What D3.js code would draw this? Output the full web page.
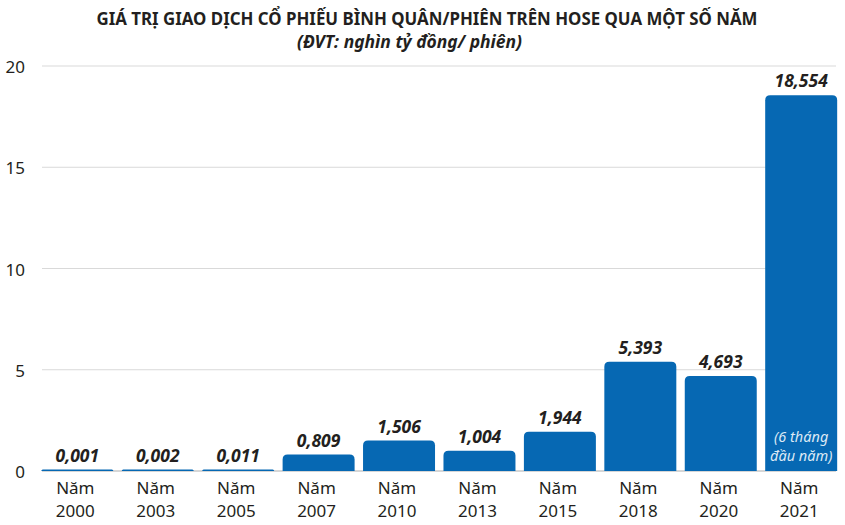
<!DOCTYPE html>
<html><head><meta charset="utf-8">
<script src="https://cdn.jsdelivr.net/npm/d3@7"></script>
<style>body{margin:0;background:#fff}</style>
</head><body><svg id="c" width="845" height="525"></svg>
<script>
const categories = ["2000","2003","2005","2007","2010","2013","2015","2018","2020","2021"];
const values = [0.001,0.002,0.011,0.809,1.506,1.004,1.944,5.393,4.693,18.554];
const valueLabels = ["0,001","0,002","0,011","0,809","1,506","1,004","1,944","5,393","4,693","18,554"];
const yTicks = [0,5,10,15,20];
const title = "GIÁ TRỊ GIAO DỊCH CỔ PHIẾU BÌNH QUÂN/PHIÊN TRÊN HOSE QUA MỘT SỐ NĂM";
const subtitle = "(ĐVT: nghìn tỷ đồng/ phiên)";
const note = ["(6 tháng","đầu năm)"];

const svg = d3.select("#c");
const x = d3.scaleBand().domain(categories).range([37.3, 841.2]).paddingInner(0.105).paddingOuter(0.05);
const y = d3.scaleLinear().domain([0,20]).range([471, 66]);
const blue = "#0668b3";
const font = "'Noto Sans','Open Sans',sans-serif";
const ink = "#231f20";

svg.append("text").attr("x",427).attr("y",24.5).attr("text-anchor","middle")
  .attr("font-family",font).attr("font-weight","bold").attr("font-size",18.5).attr("fill",ink)
  .attr("textLength",661).attr("lengthAdjust","spacingAndGlyphs").text(title);
svg.append("text").attr("x",409.5).attr("y",48).attr("text-anchor","middle")
  .attr("font-family",font).attr("font-weight","bold").attr("font-style","italic").attr("font-size",17).attr("fill",ink)
  .attr("textLength",225).attr("lengthAdjust","spacingAndGlyphs").text(subtitle);

// gridlines
svg.append("g").selectAll("line").data(yTicks.filter(d=>d>0)).join("line")
  .attr("x1",42).attr("x2",836).attr("y1",d=>y(d)).attr("y2",d=>y(d))
  .attr("stroke","#d9d9d9").attr("stroke-width",1);
svg.append("line").attr("x1",42).attr("x2",836).attr("y1",y(0)).attr("y2",y(0))
  .attr("stroke","#c8c8c8").attr("stroke-width",1.5);

// y tick labels
svg.append("g").selectAll("text").data(yTicks).join("text")
  .attr("x",25).attr("y",d=>y(d)+7).attr("text-anchor","end")
  .attr("font-family",font).attr("font-size",17).attr("fill",ink).text(d=>d);

// bars with rounded tops
function barPath(x0,w,yTop,yBot,r){
  const h = yBot-yTop;
  r = Math.min(r,h,w/2);
  return `M${x0},${yBot}V${yTop+r}Q${x0},${yTop} ${x0+r},${yTop}H${x0+w-r}Q${x0+w},${yTop} ${x0+w},${yTop+r}V${yBot}Z`;
}
svg.append("g").selectAll("path").data(values).join("path")
  .attr("d",(d,i)=>{
    const top = Math.min(y(d), y(0)-1.5);
    return barPath(x(categories[i]), x.bandwidth(), top, y(0), 5);
  })
  .attr("fill",blue);

// value labels
svg.append("g").selectAll("text").data(values).join("text")
  .attr("x",(d,i)=>x(categories[i])+x.bandwidth()/2)
  .attr("y",d=>Math.min(y(d),y(0)-1.5)-8)
  .attr("text-anchor","middle").attr("font-family",font).attr("font-weight","bold").attr("font-style","italic")
  .attr("font-size",17.5).attr("fill",ink).text((d,i)=>valueLabels[i]);

// x labels
const xl = svg.append("g").selectAll("text").data(categories).join("text")
  .attr("text-anchor","middle").attr("font-family",font).attr("font-size",17).attr("fill",ink);
xl.append("tspan").attr("x",d=>x(d)+x.bandwidth()/2-2).attr("y",494).text("Năm");
xl.append("tspan").attr("x",d=>x(d)+x.bandwidth()/2-2).attr("y",516.5).text(d=>d);

// note inside last bar
const last = categories[categories.length-1];
svg.append("g").selectAll("text").data(note).join("text")
  .attr("x",x(last)+x.bandwidth()/2).attr("y",(d,i)=>442+i*18.5).attr("text-anchor","middle")
  .attr("font-family",font).attr("font-style","italic").attr("font-size",14.5).attr("fill","#dce9f5").text(d=>d);
</script></body></html>
